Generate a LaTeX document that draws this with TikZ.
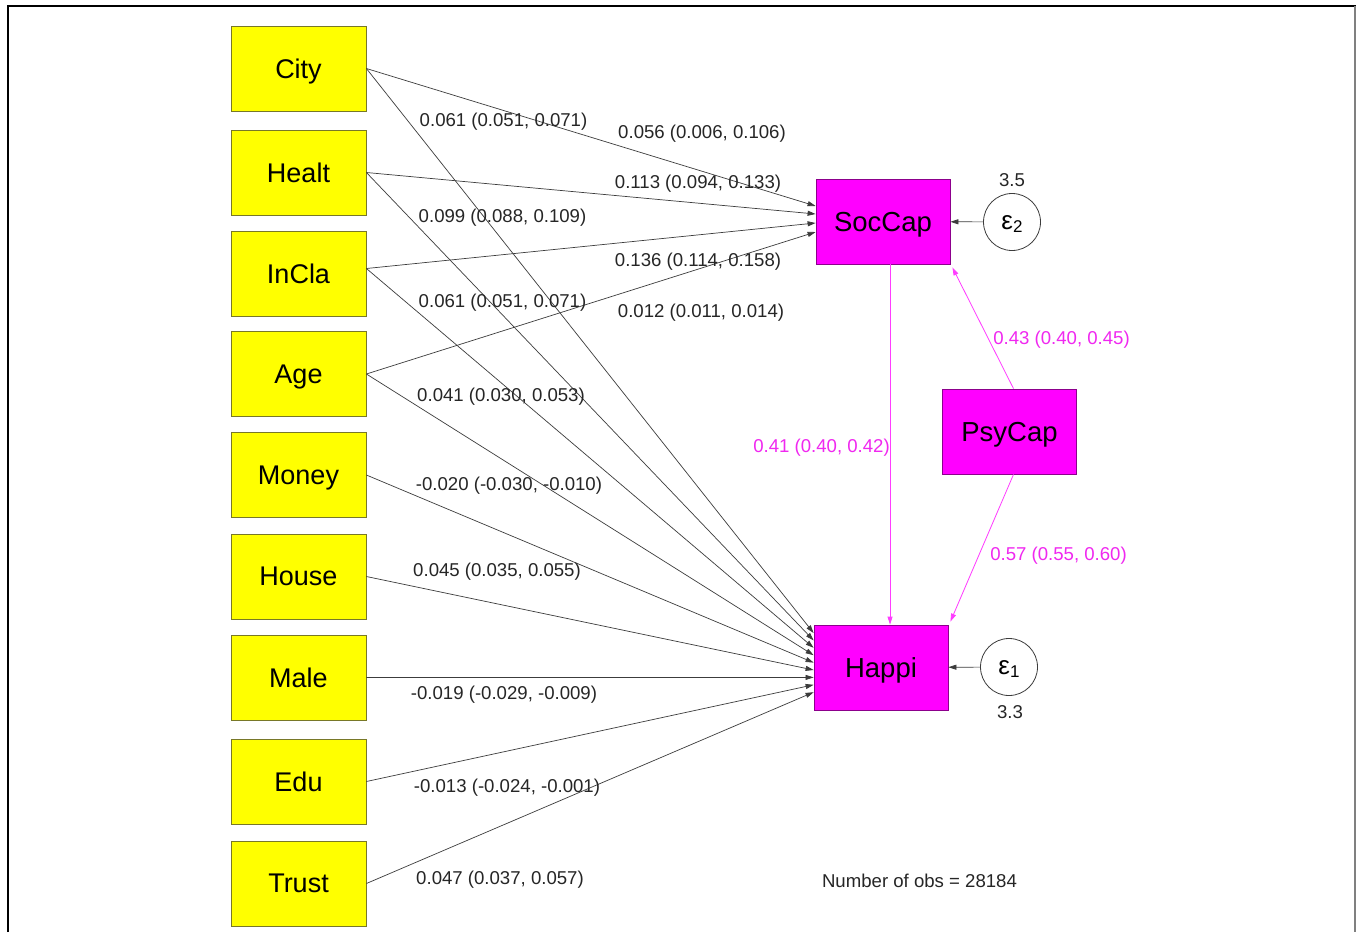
\documentclass[tikz,border=0pt]{standalone}
\usepackage{fontspec}
\setmainfont{Liberation Sans}
\usetikzlibrary{arrows.meta}
\definecolor{ybox}{RGB}{255,255,0}
\definecolor{yedge}{RGB}{120,120,40}
\definecolor{mbox}{RGB}{255,0,255}
\definecolor{medge}{RGB}{140,0,140}
\definecolor{mline}{RGB}{255,60,255}
\definecolor{mtext}{RGB}{240,40,240}
\definecolor{lgray}{RGB}{60,60,60}
\tikzset{
  ybx/.style={draw=yedge, line width=0.8pt, fill=ybox, minimum width=135pt, minimum height=85pt, inner sep=0pt, text depth=0pt, font=\fontsize{27}{32}\selectfont},
  mbx/.style={draw=medge, line width=0.8pt, fill=mbox, minimum width=134pt, minimum height=85pt, inner sep=0pt, text depth=0pt, font=\fontsize{27.5}{32}\selectfont},
  errc/.style={draw=lgray, line width=0.8pt, circle, minimum size=57pt, inner sep=0pt, text depth=0pt, font=\fontsize{26}{30}\selectfont},
  pth/.style={draw=lgray, line width=0.7pt, -{Triangle[length=8pt,width=5pt]}},
  mpth/.style={draw=mline, line width=0.8pt, -{Triangle[length=8pt,width=5pt]}},
  lab/.style={font=\fontsize{18.6}{22}\selectfont, text=black!85, inner sep=0pt, yshift=-3pt},
  mlab/.style={font=\fontsize{18.6}{22}\selectfont, text=mtext, inner sep=0pt, yshift=-3pt},
}
\begin{document}
\begin{tikzpicture}[x=1pt,y=-1pt]
\useasboundingbox (0,0) rectangle (1357,932);
\fill[white] (0,0) rectangle (1357,932);
\draw[line width=1.5pt, black] (8,932) -- (8,6) -- (1356,6);
\draw[line width=2.5pt, black!50] (1355,6) -- (1355,932);

% exogenous
\node[ybx] (city)  at (298.5,68.5)  {City};
\node[ybx] (healt) at (298.5,172.5) {Healt};
\node[ybx] (incla) at (298.5,273.5) {InCla};
\node[ybx] (age)   at (298.5,374)   {Age};
\node[ybx] (money) at (298.5,475)   {Money};
\node[ybx] (house) at (298.5,576.5) {House};
\node[ybx] (male)  at (298.5,677.5) {Male};
\node[ybx] (edu)   at (298.5,781.5) {Edu};
\node[ybx] (trust) at (298.5,883.5) {Trust};

% endogenous
\node[mbx] (soccap) at (883,221.5) {SocCap};
\node[mbx] (happi)  at (881,667.5) {Happi};
\node[mbx] (psycap) at (1009.5,431.5) {PsyCap};

\node[errc] (e2) at (1012,222) {ε\raisebox{-0.25ex}{\fontsize{17}{20}\selectfont 2}};
\node[errc] (e1) at (1009,667) {ε\raisebox{-0.25ex}{\fontsize{17}{20}\selectfont 1}};
\node[lab] (v2) at (1012,177) {3.5};
\node[lab] (v1) at (1010,709) {3.3};

% paths to SocCap
\draw[pth] (city.east)  -- ([yshift=15.5pt]soccap.west);
\draw[pth] (healt.east) -- ([yshift=7.5pt]soccap.west);
\draw[pth] ([yshift=5pt]incla.east) -- ([yshift=-1.5pt]soccap.west);
\draw[pth] (age.east)   -- ([yshift=-10.5pt]soccap.west);

% paths to Happi
\draw[pth] (city.east)  -- ([yshift=34.5pt]happi.west);
\draw[pth] (healt.east) -- ([yshift=27.1pt]happi.west);
\draw[pth] ([yshift=5pt]incla.east) -- ([yshift=19.7pt]happi.west);
\draw[pth] (age.east)   -- ([yshift=12.3pt]happi.west);
\draw[pth] (money.east) -- ([yshift=4.9pt]happi.west);
\draw[pth] (house.east) -- ([yshift=-2.5pt]happi.west);
\draw[pth] (male.east)  -- ([yshift=-9.9pt]happi.west);
\draw[pth] (edu.east)   -- ([yshift=-17.3pt]happi.west);
\draw[pth] (trust.east) -- ([yshift=-24.7pt]happi.west);

% error paths
\draw[pth] (e2) -- (soccap);
\draw[pth] (e1) -- (happi);

% magenta paths
\draw[mpth] ([xshift=7pt]soccap.south) -- ([xshift=9pt]happi.north);
\draw[mpth] ([xshift=4pt]psycap.north) -- ([xshift=2pt,yshift=-3pt]soccap.south east);
\draw[mpth] ([xshift=4pt]psycap.south) -- ([xshift=2pt,yshift=3pt]happi.north east);

% coefficient labels
\node[lab] (l1)  at (503.5,119) {0.061 (0.051, 0.071)};
\node[lab] (l2)  at (702,131)   {0.056 (0.006, 0.106)};
\node[lab] (l3)  at (698,181)   {0.113 (0.094, 0.133)};
\node[lab] (l4)  at (502.5,215) {0.099 (0.088, 0.109)};
\node[lab] (l5)  at (698,259)   {0.136 (0.114, 0.158)};
\node[lab] (l6)  at (502.5,300) {0.061 (0.051, 0.071)};
\node[lab] (l7)  at (701,310)   {0.012 (0.011, 0.014)};
\node[lab] (l8)  at (501,394)   {0.041 (0.030, 0.053)};
\node[lab] (l9)  at (509,483)   {-0.020 (-0.030, -0.010)};
\node[lab] (l10) at (497,569)   {0.045 (0.035, 0.055)};
\node[lab] (l11) at (504,692)   {-0.019 (-0.029, -0.009)};
\node[lab] (l12) at (507,785)   {-0.013 (-0.024, -0.001)};
\node[lab] (l13) at (500,877)   {0.047 (0.037, 0.057)};

\node[mlab] (m1) at (821.5,445) {0.41 (0.40, 0.42)};
\node[mlab] (m2) at (1061.5,337) {0.43 (0.40, 0.45)};
\node[mlab] (m3) at (1058.5,553) {0.57 (0.55, 0.60)};

\node[lab] (nobs) at (919.5,878) {Number of obs = 28184};
\end{tikzpicture}
\end{document}
